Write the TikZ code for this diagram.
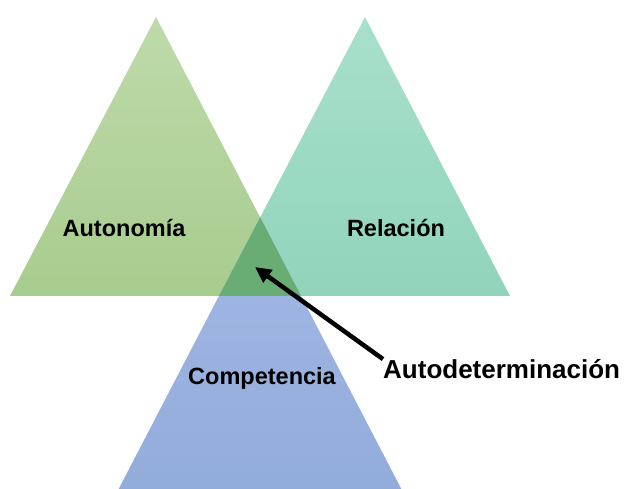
\documentclass[tikz,border=0pt]{standalone}
\usepackage{fontspec}
\setmainfont{Liberation Sans}
\usetikzlibrary{arrows.meta}

\definecolor{autTop}{RGB}{190,218,170}
\definecolor{autBot}{RGB}{168,204,142}
\definecolor{relTop}{RGB}{168,224,204}
\definecolor{relBot}{RGB}{145,212,187}
\definecolor{comTop}{RGB}{163,183,228}
\definecolor{comBot}{RGB}{146,172,218}
\definecolor{core}{RGB}{106,173,116}

\tikzset{
  label/.style={font=\bfseries\fontsize{23.5}{26}\selectfont, inner sep=0pt, text=black},
  callout/.style={font=\bfseries\fontsize{26}{29}\selectfont, inner sep=0pt, text=black, anchor=west},
  pointer/.style={line width=4.5pt, -{Triangle[length=16pt,width=15pt]}}
}

\begin{document}
\begin{tikzpicture}[x=1pt,y=-1pt]
  \useasboundingbox (0,0) rectangle (627,489);
  \clip (0,0) rectangle (627,489);

  % three equal triangles
  \shade[top color=autTop, bottom color=autBot] (156,17) -- (301,296) -- (10,296) -- cycle;
  \shade[top color=relTop, bottom color=relBot] (365,17) -- (510,296) -- (219,296) -- cycle;
  \shade[top color=comTop, bottom color=comBot] (260,217) -- (405,496) -- (115,496) -- cycle;
  % common region of all three
  \fill[core] (260.2,217.4) -- (301,296) -- (219,296) -- cycle;

  \node[label] (aut) at (124,228) {Autonomía};
  \node[label] (rel) at (396,228) {Relación};
  \node[label] (com) at (262,378) {Competencia};
  \node[callout] (auto) at (383,369) {Autodeterminación};

  \coordinate (core) at (255,267);
  \draw[pointer] (auto.north west) -- (core);
\end{tikzpicture}
\end{document}
